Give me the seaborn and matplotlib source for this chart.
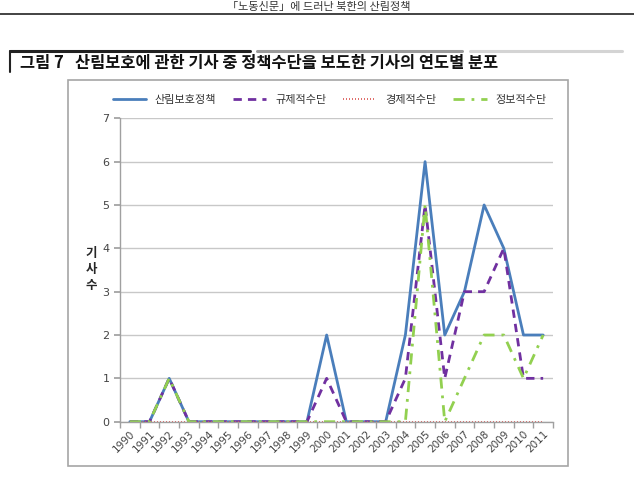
import matplotlib

matplotlib.use("Agg")
import matplotlib.pyplot as plt
import pandas as pd
import seaborn as sns
from matplotlib.lines import Line2D
from matplotlib.patches import Rectangle
from matplotlib.ticker import FixedLocator

YEARS = [str(y) for y in range(1990, 2012)]
POLICY = [0, 0, 1, 0, 0, 0, 0, 0, 0, 0, 2, 0, 0, 0, 2, 6, 2, 3, 5, 4, 2, 2]
REGULATORY = [0, 0, 1, 0, 0, 0, 0, 0, 0, 0, 1, 0, 0, 0, 1, 5, 1, 3, 3, 4, 1, 1]
ECONOMIC = [0] * 22
INFORMATION = [0, 0, 1, 0, 0, 0, 0, 0, 0, 0, 0, 0, 0, 0, 0, 5, 0, 1, 2, 2, 1, 2]
SERIES_NAMES = ["산림보호정책", "규제적수단", "경제적수단", "정보적수단"]

COLORS = {
    "산림보호정책": "#4a7ebb",
    "규제적수단": "#7030a0",
    "경제적수단": "#d9534f",
    "정보적수단": "#92d050",
}
DASHES = {
    "산림보호정책": "",
    "규제적수단": (3, 2.2),
    "경제적수단": (0.6, 1.2),
    "정보적수단": (4, 2.5, 1, 2.5),
}

sns.set_theme(style="white")
plt.rcParams["font.family"] = ["Noto Sans CJK KR", "DejaVu Sans"]

df = pd.DataFrame(
    {
        "year": YEARS * 4,
        "x": list(range(len(YEARS))) * 4,
        "count": POLICY + REGULATORY + ECONOMIC + INFORMATION,
        "series": sum([[name] * len(YEARS) for name in SERIES_NAMES], []),
    }
)

fig = plt.figure(figsize=(6.34, 4.83), dpi=100)

# page header
fig.text(0.502, 1 - 6.5 / 483, "「노동신문」에 드러난 북한의 산림정책", ha="center", va="center",
         fontsize=8, color="#333333")
fig.add_artist(Line2D([0, 1], [1 - 14 / 483, 1 - 14 / 483], color="#222222", lw=1.2))

# figure title block
yb = 1 - 51 / 483
fig.add_artist(Line2D([10 / 634, 250 / 634], [yb, yb], color="#222222", lw=2.2))
fig.add_artist(Line2D([257 / 634, 462 / 634], [yb, yb], color="#9a9a9a", lw=2.2))
fig.add_artist(Line2D([470 / 634, 622 / 634], [yb, yb], color="#d4d4d4", lw=2.2))
fig.add_artist(Line2D([10 / 634, 10 / 634], [yb, 1 - 72 / 483], color="#222222", lw=1.5))
fig.text(20 / 634, 1 - 63 / 483, "그림 7   산림보호에 관한 기사 중 정책수단을 보도한 기사의 연도별 분포",
         ha="left", va="center", fontsize=11.8, fontweight="bold", color="#111111")

# chart frame
fig.add_artist(Rectangle((68 / 634, 1 - 466 / 483), 500 / 634, 386 / 483,
                         transform=fig.transFigure, fill=False, edgecolor="#a6a6a6", lw=1.2))

ax = fig.add_axes([120 / 634, 61.3 / 483, 433 / 634, 303.4 / 483])
sns.lineplot(data=df, x="x", y="count", hue="series", style="series",
             palette=COLORS, dashes=DASHES, hue_order=SERIES_NAMES,
             style_order=SERIES_NAMES, linewidth=2, ax=ax, legend=False)
ax.lines[2].set_linewidth(1.2)

ax.set_xlim(-0.5, len(YEARS) - 0.5)
ax.set_ylim(0, 7)
ax.set_yticks(range(0, 8))
ax.set_xticks(range(len(YEARS)))
ax.set_xticklabels(YEARS, rotation=45, ha="right", rotation_mode="anchor", fontsize=7.5,
                   color="#444444", family="DejaVu Sans")
ax.tick_params(axis="x", which="major", length=0, pad=5)
ax.xaxis.set_minor_locator(FixedLocator([i - 0.5 for i in range(len(YEARS) + 1)]))
ax.tick_params(axis="x", which="minor", length=4, color="#a0a0a0", bottom=True)
ax.tick_params(axis="y", length=4, color="#a0a0a0", left=True, labelsize=8, labelcolor="#444444")
for lbl in ax.get_yticklabels():
    lbl.set_family("DejaVu Sans")
ax.yaxis.grid(True, color="#c8c8c8", lw=1)
ax.set_axisbelow(True)
for side in ["top", "right"]:
    ax.spines[side].set_visible(False)
for side in ["left", "bottom"]:
    ax.spines[side].set_color("#a0a0a0")
    ax.spines[side].set_linewidth(1)
ax.set_xlabel("")
ax.set_ylabel("기\n사\n수", rotation=0, fontsize=9, fontweight="bold", labelpad=8,
              va="center", linespacing=1.3)

handles = [
    Line2D([], [], color=COLORS[n], lw=2 if n != "경제적수단" else 1.2,
           dashes=DASHES[n] if DASHES[n] else (None, None))
    for n in SERIES_NAMES
]
fig.legend(handles, SERIES_NAMES, loc="center", bbox_to_anchor=(0.52, 1 - 100 / 483),
           ncol=4, frameon=False, fontsize=8, handlelength=3, columnspacing=1.5,
           labelcolor="#333333")

fig.savefig("out.png", dpi=100)
